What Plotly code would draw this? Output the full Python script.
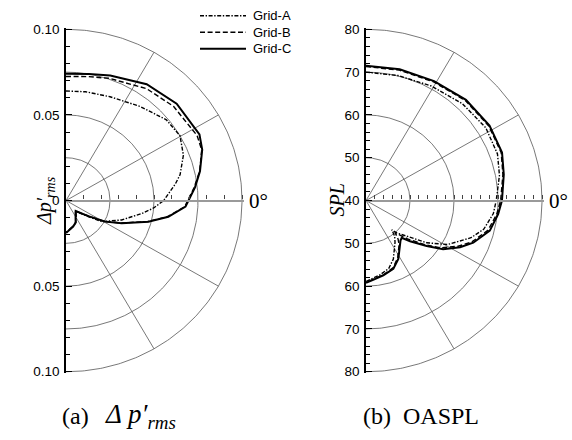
import numpy as np
import plotly.graph_objects as go

# ---------------- data (angle in degrees, radial value) ----------------
series_names = ["Grid-A", "Grid-B", "Grid-C"]

# (a) delta p'rms
dp_theta_A = [90, 80, 67.6, 52.6, 39.6, 30.3, 21.7, 13.2, 9, 5, 0, -5, -10, -19.7, -25, -31.3, -36, -43.5, -48, -52, -60, -67, -75, -86, -90]
dp_A = [0.0640, 0.0645, 0.0656, 0.0692, 0.0740, 0.0750, 0.0718, 0.0666, 0.0630, 0.0590, 0.0555, 0.0500, 0.0437, 0.0336, 0.0285, 0.0237, 0.0165, 0.0100, 0.0085, 0.0091, 0.0116, 0.0140, 0.0156, 0.0178, 0.0187]

dp_theta_B = [90, 80, 71, 55, 42, 27, 21, 12.6, 6, 0, -3, -9.3, -14.8, -22.7, -29, -35.6, -43.5, -48, -52, -60, -67, -75, -86, -90]
dp_B = [0.0725, 0.0735, 0.0755, 0.0798, 0.0822, 0.0836, 0.0826, 0.0778, 0.0732, 0.0690, 0.0676, 0.0585, 0.0480, 0.0340, 0.0250, 0.0155, 0.0098, 0.0083, 0.0090, 0.0115, 0.0140, 0.0155, 0.0176, 0.0185]

dp_theta_C = [90, 80, 71, 56, 42, 27, 21, 12.6, 6, 0, -3, -9.3, -14.8, -22.7, -29, -35.6, -43.5, -48, -52, -60, -67, -75, -86, -90]
dp_C = [0.0740, 0.0750, 0.0772, 0.0820, 0.0846, 0.0851, 0.0829, 0.0780, 0.0737, 0.0695, 0.0680, 0.0589, 0.0484, 0.0343, 0.0254, 0.0156, 0.0097, 0.0082, 0.0088, 0.0113, 0.0140, 0.0157, 0.0180, 0.0190]

# (b) OASPL
spl_theta_A = [90, 76, 61, 46, 32, 20, 11, 0, -6, -14, -20, -29, -35.5, -42, -47.3, -49.4, -52, -56, -65.5, -72, -80, -90]
spl_A = [70.0, 70.1, 70.6, 71.5, 72.1, 71.8, 70.9, 69.6, 69.1, 67.6, 65.4, 61.2, 57.0, 52.6, 50.3, 49.0, 50.6, 51.8, 55.0, 56.7, 57.7, 58.9]

spl_theta_B = [90, 76, 61, 46, 32, 20, 11, 0, -6, -14, -22, -27, -33, -37.6, -43.5, -47, -48.5, -51, -54, -61.7, -68.7, -77.3, -85, -90]
spl_B = [71.3, 71.4, 71.7, 72.5, 72.9, 72.7, 71.7, 70.6, 69.9, 68.6, 65.9, 63.5, 60.3, 56.9, 53.0, 50.7, 50.0, 51.6, 52.8, 55.2, 56.9, 57.8, 58.5, 59.1]

spl_theta_C = [90, 76, 61, 46, 32, 20, 11, 0, -6, -14, -22, -27, -33, -37.6, -43.5, -47, -50, -54, -61.7, -68.7, -77.3, -85, -90]
spl_C = [71.5, 71.6, 71.9, 72.7, 73.1, 72.9, 71.9, 70.9, 70.2, 69.0, 66.3, 64.0, 60.9, 57.4, 53.8, 51.9, 52.2, 53.1, 55.5, 57.1, 57.9, 58.6, 59.2]

# axis ticks
dp_ticks = [-0.10, -0.05, 0.0, 0.05, 0.10]
dp_ticktext = ["0.10", "0.05", "0", "0.05", "0.10"]
dp_rings = [0.025, 0.05, 0.075, 0.10]
spl_min, spl_max = 40, 80
spl_ticks = [40, 50, 60, 70, 80]
spl_rings = [50, 60, 70, 80]
spokes = [60, 30, -30, -60]

# ---------------- geometry ----------------
W, H = 572, 440
cxL, cxR, cy, Rpx = 66, 366, 200, 176
pad = 1.5

styles = {
    "Grid-A": dict(color="black", width=1.4, dash="4px,1.6px,1.4px,1.6px"),
    "Grid-B": dict(color="black", width=1.4, dash="5px,2.6px"),
    "Grid-C": dict(color="black", width=2.0, dash="solid"),
}


def to_xy(theta_deg, r):
    t = np.radians(np.asarray(theta_deg, dtype=float))
    r = np.asarray(r, dtype=float)
    return r * np.cos(t), r * np.sin(t)


fig = go.Figure()

grid_line = dict(color="#555555", width=0.8)
arc = np.linspace(-90, 90, 241)


def add_panel(xa, ya, rings_r, rmax, curves):
    for rr in rings_r:
        x, y = to_xy(arc, np.full_like(arc, rr))
        fig.add_trace(go.Scatter(x=x, y=y, mode="lines", line=grid_line,
                                 hoverinfo="skip", showlegend=False, xaxis=xa, yaxis=ya))
    for a in spokes:
        x, y = to_xy([a, a], [0, rmax])
        fig.add_trace(go.Scatter(x=x, y=y, mode="lines", line=grid_line,
                                 hoverinfo="skip", showlegend=False, xaxis=xa, yaxis=ya))
    for name, th, rv in curves:
        x, y = to_xy(th, rv)
        fig.add_trace(go.Scatter(x=x, y=y, mode="lines", name=name, line=styles[name],
                                 showlegend=False, xaxis=xa, yaxis=ya))


add_panel("x", "y", dp_rings, 0.10,
          [("Grid-A", dp_theta_A, dp_A), ("Grid-B", dp_theta_B, dp_B), ("Grid-C", dp_theta_C, dp_C)])

spl_off = lambda v: np.asarray(v, dtype=float) - spl_min
add_panel("x2", "y2", spl_off(spl_rings), spl_max - spl_min,
          [("Grid-A", spl_theta_A, spl_off(spl_A)), ("Grid-B", spl_theta_B, spl_off(spl_B)),
           ("Grid-C", spl_theta_C, spl_off(spl_C))])


def px_x(p):
    return p / W


def px_y(p):
    return 1 - p / H


ydom = [px_y(cy + Rpx + pad), px_y(cy - Rpx - pad)]
ycenter = px_y(cy)
k = 1 + pad / Rpx

tickfont = dict(family="Liberation Sans, Arial, sans-serif", size=13.5, color="black")


def yaxis_cfg(rmax, tickvals, ticktext, minor_dtick, anchor):
    return dict(domain=ydom, range=[-rmax * k, rmax * k], anchor=anchor,
                tickvals=tickvals, ticktext=ticktext, ticks="inside", ticklen=6, tickwidth=1,
                tickcolor="black", showline=True, linecolor="black", linewidth=1.6,
                showgrid=False, zeroline=False, tickfont=tickfont, ticklabelstandoff=2,
                minor=dict(dtick=minor_dtick, tick0=0, ticks="inside", ticklen=4,
                           tickcolor="black", tickwidth=1, showgrid=False))


def xaxis_cfg(cx, rmax, dtick):
    return dict(domain=[px_x(cx), px_x(cx + Rpx + pad)], range=[0, rmax * k], anchor="free",
                position=ycenter, showline=True, linecolor="#9a9a9a", linewidth=2.2,
                ticks="inside", ticklen=4, tickwidth=1, tickcolor="#444444",
                tick0=0, dtick=dtick, showticklabels=False, showgrid=False, zeroline=False)


spl_tickvals = [-(t - spl_min) for t in spl_ticks[::-1]] + [t - spl_min for t in spl_ticks[1:]]
spl_ticktext = [str(t) for t in spl_ticks[::-1]] + [str(t) for t in spl_ticks[1:]]

fig.update_layout(
    width=W, height=H, margin=dict(l=0, r=0, t=0, b=0),
    paper_bgcolor="white", plot_bgcolor="rgba(0,0,0,0)",
    xaxis=xaxis_cfg(cxL, 0.10, 0.01),
    yaxis=yaxis_cfg(0.10, dp_ticks, dp_ticktext, 0.01, "x"),
    xaxis2=xaxis_cfg(cxR, spl_max - spl_min, 2),
    yaxis2=yaxis_cfg(spl_max - spl_min, spl_tickvals, spl_ticktext, 2, "x2"),
    showlegend=False,
)

serif = "Liberation Serif, Times New Roman, serif"
ann = []
# 0° labels
for cx in (cxL, cxR):
    ann.append(dict(x=px_x(cx + Rpx + 5), y=ycenter, xref="paper", yref="paper", xanchor="left",
                    yanchor="middle", text="0°", showarrow=False,
                    font=dict(family=serif, size=21, color="black")))
# axis titles
ann.append(dict(x=px_x(31), y=ycenter, xref="paper", yref="paper", textangle=-90,
                text="<i>Δp′</i><sub><i>rms</i></sub>", showarrow=False,
                font=dict(family=serif, size=20, color="black")))
ann.append(dict(x=px_x(337), y=ycenter, xref="paper", yref="paper", textangle=-90,
                text="<i>SPL</i>", showarrow=False,
                font=dict(family=serif, size=20, color="black")))
# captions
ann.append(dict(x=px_x(60), y=px_y(422), xref="paper", yref="paper", xanchor="left", yanchor="middle",
                text="(a)", showarrow=False,
                font=dict(family=serif, size=24, color="black")))
ann.append(dict(x=px_x(103), y=px_y(421), xref="paper", yref="paper", xanchor="left", yanchor="middle",
                text="<i>Δ p′</i><sub><i>rms</i></sub>", showarrow=False,
                font=dict(family=serif, size=27, color="black")))
ann.append(dict(x=px_x(361), y=px_y(422), xref="paper", yref="paper", xanchor="left", yanchor="middle",
                text="(b)  OASPL", showarrow=False,
                font=dict(family=serif, size=24, color="black")))

# legend (manual)
shapes = []
leg_y = [10, 27, 44]
for name, ly in zip(series_names, leg_y):
    st = styles[name]
    shapes.append(dict(type="line", xref="paper", yref="paper", x0=px_x(200), x1=px_x(246),
                       y0=px_y(ly), y1=px_y(ly), line=dict(color="black", width=st["width"], dash=st["dash"])))
    ann.append(dict(x=px_x(251), y=px_y(ly), xref="paper", yref="paper", xanchor="left", yanchor="middle",
                    text=name, showarrow=False,
                    font=dict(family="Liberation Sans, Arial, sans-serif", size=13, color="black")))

fig.update_layout(annotations=ann, shapes=shapes)
fig.write_html("out.html")
